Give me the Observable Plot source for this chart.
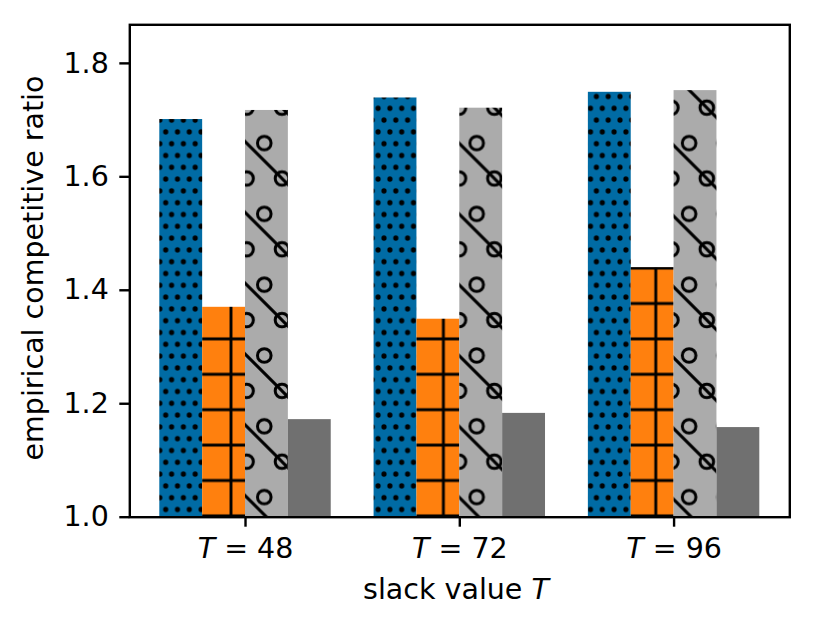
<!DOCTYPE html>
<html>
<head>
<meta charset="utf-8">
<script src="https://cdn.jsdelivr.net/npm/d3@7"></script>
<script src="https://cdn.jsdelivr.net/npm/@observablehq/plot@0.6"></script>
<style>
  html, body { margin: 0; padding: 0; background: #fff; }
</style>
</head>
<body>
<svg width="0" height="0" style="position:absolute">
  <defs>
    <pattern id="pDots" patternUnits="userSpaceOnUse" x="165.7" y="202.7" width="11.8" height="23.6">
      <rect width="11.8" height="23.6" fill="#006BA4"/>
      <g fill="black">
        <circle cx="0" cy="0" r="2.6"/><circle cx="11.8" cy="0" r="2.6"/>
        <circle cx="0" cy="23.6" r="2.6"/><circle cx="11.8" cy="23.6" r="2.6"/>
        <circle cx="5.9" cy="11.8" r="2.6"/>
      </g>
    </pattern>
    <pattern id="pGrid" patternUnits="userSpaceOnUse" x="231" y="480.5" width="35.4" height="35.4">
      <rect width="35.4" height="35.4" fill="#FF800E"/>
      <path d="M0,0H35.4M0,35.4H35.4M0,0V35.4M35.4,0V35.4" stroke="black" stroke-width="2.9" fill="none"/>
    </pattern>
    <pattern id="pCirc" patternUnits="userSpaceOnUse" x="282" y="178.5" width="70.8" height="70.8">
      <rect width="70.8" height="70.8" fill="#ABABAB"/>
      <g fill="none" stroke="black" stroke-width="3">
        <circle cx="0" cy="0" r="6.8"/><circle cx="35.4" cy="0" r="6.8"/><circle cx="70.8" cy="0" r="6.8"/>
        <circle cx="0" cy="70.8" r="6.8"/><circle cx="35.4" cy="70.8" r="6.8"/><circle cx="70.8" cy="70.8" r="6.8"/>
        <circle cx="17.7" cy="35.4" r="6.8"/><circle cx="53.1" cy="35.4" r="6.8"/>
        <path d="M-5,-5L75.8,75.8M-5,65.8L5,75.8M65.8,-5L75.8,5"/>
      </g>
    </pattern>
  </defs>
</svg>
<div id="chart"></div>
<script>
// ---- data ----
const groups = ["48", "72", "96"];
const seriesA = [1.701, 1.739, 1.749];   // blue, dotted
const seriesB = [1.370, 1.349, 1.440];   // orange, grid
const seriesC = [1.717, 1.721, 1.752];   // light gray, circles + diagonal
const seriesD = [1.172, 1.183, 1.158];   // dark gray, plain
const yTicks = [1.0, 1.2, 1.4, 1.6, 1.8];

// ---- presentation ----
const seriesList = [seriesA, seriesB, seriesC, seriesD];
const seriesFills = ["url(#pDots)", "url(#pGrid)", "url(#pCirc)", "#707070"];
const barW = 0.2;
const baseline = 1.0;
const FS = 28.5;
const FONT = "DejaVu Sans";

const rows = [];
seriesList.forEach((vals, j) => {
  vals.forEach((v, i) => rows.push({group: i, series: j, value: v}));
});

const x1 = d => d.group + (d.series - 2) * barW;
const x2 = d => d.group + (d.series - 1) * barW;

const chart = Plot.plot({
  width: 829,
  height: 628,
  marginLeft: 129.3,
  marginRight: 39.7,
  marginTop: 24.3,
  marginBottom: 111.3,
  style: {fontFamily: FONT, fontSize: FS + "px", color: "black", background: "white"},
  x: {domain: [-0.54, 2.54]},
  y: {domain: [1.0, 1.868]},
  marks: [
    ...seriesFills.map((f, j) =>
      Plot.rectY(rows.filter(d => d.series === j), {
        x1, x2, y1: () => baseline, y2: "value", fill: f
      })
    ),
    Plot.axisY({ticks: yTicks, tickFormat: d3.format(".1f"), tickSize: 10, tickPadding: 11,
      fontSize: FS, label: null, strokeWidth: 2.4}),
    Plot.axisX({ticks: [0, 1, 2], tickFormat: i => `T = ${groups[i]}`, tickSize: 10, tickPadding: 11,
      fontSize: FS, label: null, strokeWidth: 2.4}),
    Plot.frame({stroke: "black", strokeWidth: 2.4})
  ]
});
document.getElementById("chart").appendChild(chart);

// italic T in x tick labels
const svg = d3.select(chart);
svg.selectAll('g[aria-label="x-axis tick label"] text').each(function () {
  const t = d3.select(this);
  const s = t.text();
  t.text(null);
  t.append("tspan").attr("font-style", "italic").text(s.slice(0, 1));
  t.append("tspan").text(s.slice(1));
});

// axis labels
const xl = svg.append("text")
  .attr("x", 456).attr("y", 599)
  .attr("text-anchor", "middle")
  .attr("font-family", FONT).attr("font-size", FS).attr("fill", "black");
xl.append("tspan").text("slack value ");
xl.append("tspan").attr("font-style", "italic").text("T");

svg.append("text")
  .attr("transform", "translate(43,268) rotate(-90)")
  .attr("text-anchor", "middle")
  .attr("font-family", FONT).attr("font-size", FS).attr("fill", "black")
  .text("empirical competitive ratio");
</script>
</body>
</html>
